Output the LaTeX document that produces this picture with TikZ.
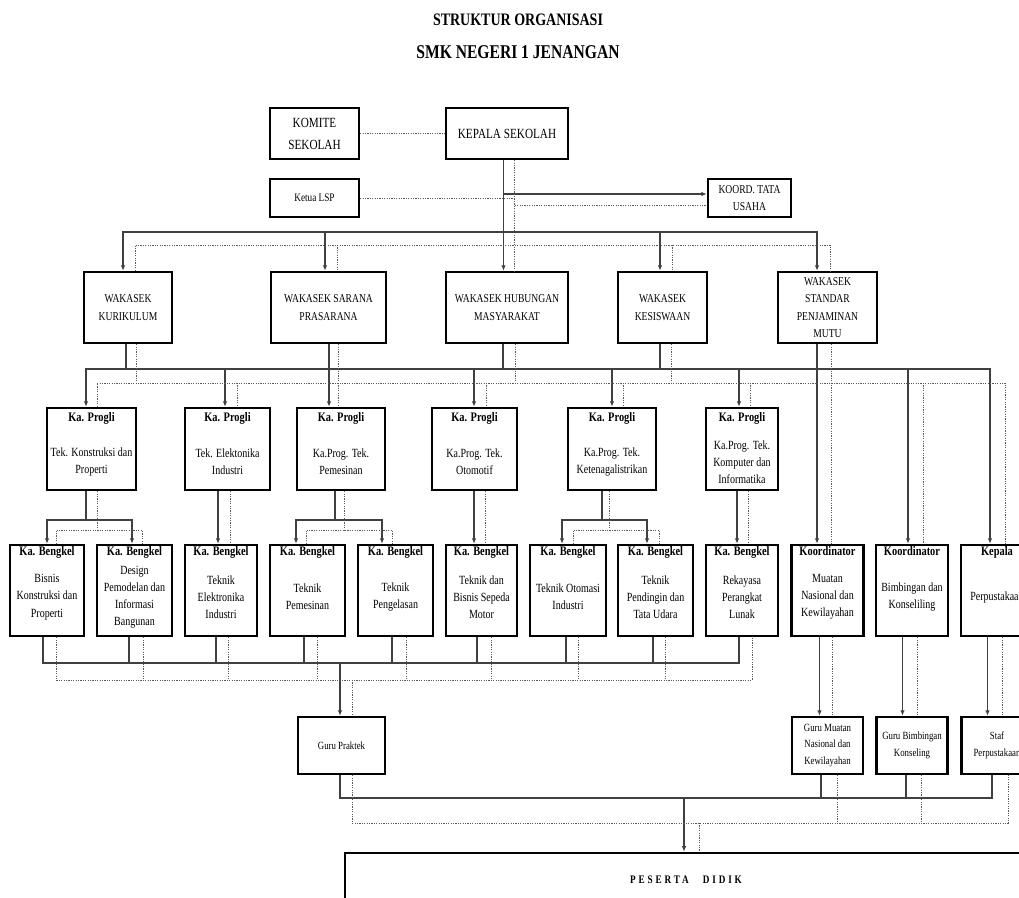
\documentclass[tikz,border=0pt]{standalone}
\usepackage{fontspec}
\setmainfont{Liberation Serif}[FakeStretch=0.8]
\usetikzlibrary{arrows.meta}

\tikzset{
  frame/.style={draw, line width=2.4pt, inner sep=0pt, align=center},
  big/.style={font=\fontsize{14}{22}\selectfont},
  caps/.style={font=\fontsize{12}{17.5}\selectfont},
  progli/.style={frame, minimum height=82pt},
  bengkel/.style={frame, minimum height=91pt},
  guru/.style={frame, minimum height=57pt, font=\fontsize{11}{16.5}\selectfont},
  head/.style={anchor=base, inner sep=0pt, font=\bfseries\fontsize{13}{16}\selectfont},
  body/.style={align=center, inner sep=0pt, font=\fontsize{12.5}{17.2}\selectfont},
  solidline/.style={draw=black!75, line width=1.2pt},
  arrowline/.style={solidline, ->},
  dotline/.style={draw=black!65, line width=1pt, dash pattern=on 1.2pt off 1.2pt},
  >={Latex[length=5.5pt,width=4.5pt]}
}

\begin{document}
\begin{tikzpicture}[x=1pt, y=-1pt]
\useasboundingbox (0,0) rectangle (1019,897);

% Judul
\node[font=\bfseries\fontsize{17.5}{20}\selectfont] (title) at (518,20) {STRUKTUR ORGANISASI};
\node[font=\bfseries\fontsize{19.5}{22}\selectfont] (school) at (518,52) {SMK NEGERI 1 JENANGAN};

% Tingkat garis penghubung
\coordinate (busA) at (0,232);
\coordinate (dotA) at (0,245);
\coordinate (busB) at (0,369);
\coordinate (dotB) at (0,383);
\coordinate (busC) at (0,520);
\coordinate (dotC) at (0,530);
\coordinate (busD) at (0,663);
\coordinate (dotD) at (0,680);
\coordinate (busE) at (0,798);
\coordinate (dotE) at (0,823);

% Pimpinan
\node[frame, big, minimum width=89pt, minimum height=51pt] (komite) at (314.5,133.5) {KOMITE\\SEKOLAH};
\node[frame, big, minimum width=122pt, minimum height=51pt] (kepala) at (507,133.5) {KEPALA SEKOLAH};
\node[frame, font=\fontsize{11.5}{14}\selectfont, minimum width=89pt, minimum height=38pt] (lsp) at (314.5,198) {Ketua LSP};
\node[frame, caps, minimum width=83pt, minimum height=38pt] (tu) at (749.5,198) {KOORD. TATA\\USAHA};

% Wakasek
\node[frame, caps, minimum width=88pt, minimum height=71pt] (kurikulum) at (128,307.5) {WAKASEK\\KURIKULUM};
\node[frame, caps, minimum width=115pt, minimum height=71pt] (sarana) at (328.5,307.5) {WAKASEK SARANA\\PRASARANA};
\node[frame, caps, minimum width=122pt, minimum height=71pt] (humas) at (507,307.5) {WAKASEK HUBUNGAN\\MASYARAKAT};
\node[frame, caps, minimum width=89pt, minimum height=71pt] (kesiswaan) at (662.5,307.5) {WAKASEK\\KESISWAAN};
\node[frame, caps, minimum width=99pt, minimum height=71pt] (spm) at (827.5,307.5) {WAKASEK\\STANDAR\\PENJAMINAN\\MUTU};

% Ka. Progli
\node[progli, minimum width=89pt] (tkp) at (91.5,449) {};
\node[head] (tkph) at ([yshift=-15pt]tkp.north) {Ka. Progli};
\node[body] (tkpt) at ([yshift=-13pt]tkp.center) {Tek. Konstruksi dan\\Properti};
\node[progli, minimum width=85pt] (tei) at (227.5,449) {};
\node[head] (teih) at ([yshift=-15pt]tei.north) {Ka. Progli};
\node[body] (teit) at ([yshift=-13pt]tei.center) {Tek. Elektonika\\Industri};
\node[progli, minimum width=88pt] (tpm) at (341,449) {};
\node[head] (tpmh) at ([yshift=-15pt]tpm.north) {Ka. Progli};
\node[body] (tpmt) at ([yshift=-13pt]tpm.center) {Ka.Prog. Tek.\\Pemesinan};
\node[progli, minimum width=85pt] (tom) at (474.5,449) {};
\node[head] (tomh) at ([yshift=-15pt]tom.north) {Ka. Progli};
\node[body] (tomt) at ([yshift=-13pt]tom.center) {Ka.Prog. Tek.\\Otomotif};
\node[progli, minimum width=88pt] (tkl) at (612,449) {};
\node[head] (tklh) at ([yshift=-15pt]tkl.north) {Ka. Progli};
\node[body] (tklt) at ([yshift=-13pt]tkl.center) {Ka.Prog. Tek.\\Ketenagalistrikan};
\node[progli, minimum width=72pt] (tki) at (742,449) {};
\node[head] (tkih) at ([yshift=-15pt]tki.north) {Ka. Progli};
\node[body] (tkit) at ([yshift=-13pt]tki.center) {Ka.Prog. Tek.\\Komputer dan\\Informatika};

% Ka. Bengkel dan Koordinator
\node[bengkel, minimum width=74pt] (bkp) at (47,590.5) {};
\node[head] (bkph) at ([yshift=-12pt]bkp.north) {Ka. Bengkel};
\node[body] (bkpt) at ([yshift=-6.5pt]bkp.center) {Bisnis\\Konstruksi dan\\Properti};
\node[bengkel, minimum width=75pt] (dpib) at (134.5,590.5) {};
\node[head] (dpibh) at ([yshift=-12pt]dpib.north) {Ka. Bengkel};
\node[body] (dpibt) at ([yshift=-6.5pt]dpib.center) {Design\\Pemodelan dan\\Informasi\\Bangunan};
\node[bengkel, minimum width=72pt] (tein) at (221,590.5) {};
\node[head] (teinh) at ([yshift=-12pt]tein.north) {Ka. Bengkel};
\node[body] (teint) at ([yshift=-6.5pt]tein.center) {Teknik\\Elektronika\\Industri};
\node[bengkel, minimum width=75pt] (tpem) at (307.5,590.5) {};
\node[head] (tpemh) at ([yshift=-12pt]tpem.north) {Ka. Bengkel};
\node[body] (tpemt) at ([yshift=-6.5pt]tpem.center) {Teknik\\Pemesinan};
\node[bengkel, minimum width=75pt] (tpeng) at (395.5,590.5) {};
\node[head] (tpengh) at ([yshift=-12pt]tpeng.north) {Ka. Bengkel};
\node[body] (tpengt) at ([yshift=-6.5pt]tpeng.center) {Teknik\\Pengelasan};
\node[bengkel, minimum width=71pt] (tbsm) at (481.5,590.5) {};
\node[head] (tbsmh) at ([yshift=-12pt]tbsm.north) {Ka. Bengkel};
\node[body] (tbsmt) at ([yshift=-6.5pt]tbsm.center) {Teknik dan\\Bisnis Sepeda\\Motor};
\node[bengkel, minimum width=76pt] (toi) at (568,590.5) {};
\node[head] (toih) at ([yshift=-12pt]toi.north) {Ka. Bengkel};
\node[body] (toit) at ([yshift=-6.5pt]toi.center) {Teknik Otomasi\\Industri};
\node[bengkel, minimum width=75pt] (tpu) at (655.5,590.5) {};
\node[head] (tpuh) at ([yshift=-12pt]tpu.north) {Ka. Bengkel};
\node[body] (tput) at ([yshift=-6.5pt]tpu.center) {Teknik\\Pendingin dan\\Tata Udara};
\node[bengkel, minimum width=72pt] (rpl) at (742,590.5) {};
\node[head] (rplh) at ([yshift=-12pt]rpl.north) {Ka. Bengkel};
\node[body] (rplt) at ([yshift=-6.5pt]rpl.center) {Rekayasa\\Perangkat\\Lunak};
\node[bengkel, minimum width=72pt] (kmn) at (827.5,590.5) {};
\node[head] (kmnh) at ([yshift=-12pt]kmn.north) {Koordinator};
\node[body] (kmnt) at ([yshift=-6.5pt]kmn.center) {Muatan\\Nasional dan\\Kewilayahan};
\node[bengkel, minimum width=72pt] (kbk) at (912,590.5) {};
\node[head] (kbkh) at ([yshift=-12pt]kbk.north) {Koordinator};
\node[body] (kbkt) at ([yshift=-6.5pt]kbk.center) {Bimbingan dan\\Konseliling};
\node[bengkel, minimum width=72pt] (kpus) at (997,590.5) {};
\node[head] (kpush) at ([yshift=-12pt]kpus.north) {Kepala};
\node[body] (kpust) at ([yshift=-6.5pt]kpus.center) {Perpustakaan};

% Guru dan staf
\node[guru, minimum width=87pt] (gupr) at (341.5,745.5) {Guru Praktek};
\node[guru, minimum width=71pt] (gumn) at (827.5,745.5) {Guru Muatan\\Nasional dan\\Kewilayahan};
\node[guru, minimum width=71pt] (gubk) at (912,745.5) {Guru Bimbingan\\Konseling};
\node[guru, minimum width=71pt] (staf) at (997,745.5) {Staf\\Perpustakaan};

% Peserta didik
\node[frame, line width=2.6pt, minimum width=682pt, minimum height=54pt,
  font=\bfseries\fontsize{11.5}{14}\selectfont\addfontfeatures{LetterSpace=25}] (peserta) at (686,880) {PESERTA\hspace{14pt}DIDIK};

% Kepala Sekolah
\draw[dotline] (komite) -- (kepala);
\draw[arrowline] ([xshift=-3.5pt]kepala.south) -- ([xshift=-3.5pt]humas.north);
\draw[dotline] ([xshift=7pt]kepala.south) -- ([xshift=7pt]humas.north);
\draw[arrowline] ([xshift=-3.5pt]kepala.south) |- ([yshift=4pt]tu.west);
\draw[dotline] ([xshift=7pt]kepala.south) |- ([yshift=-7pt]tu.west);
\draw[dotline] (lsp) -- ([xshift=7pt]kepala.south |- lsp);

% ke Wakasek
\draw[solidline, <->] ([xshift=-5pt]kurikulum.north) |- ([xshift=-10.5pt]spm.north |- busA) -- ([xshift=-10.5pt]spm.north);
\draw[arrowline] ([xshift=-3.5pt]sarana.north |- busA) -- ([xshift=-3.5pt]sarana.north);
\draw[arrowline] ([xshift=-2.5pt]kesiswaan.north |- busA) -- ([xshift=-2.5pt]kesiswaan.north);
\draw[dotline] ([xshift=7pt]kurikulum.north) |- ([xshift=2.5pt]spm.north |- dotA) -- ([xshift=2.5pt]spm.north);
\draw[dotline] ([xshift=8.5pt]sarana.north |- dotA) -- ([xshift=8.5pt]sarana.north);
\draw[dotline] ([xshift=9.5pt]kesiswaan.north |- dotA) -- ([xshift=9.5pt]kesiswaan.north);

% Wakasek ke Ka. Progli
\draw[solidline, <->] ([xshift=-5.5pt]tkp.north) |- ([xshift=-7pt]kpus.north |- busB) -- ([xshift=-7pt]kpus.north);
\draw[solidline] ([xshift=-2pt]kurikulum.south) -- ([xshift=-2pt]kurikulum.south |- busB);
\draw[arrowline] ([xshift=0.5pt]sarana.south) -- ([xshift=0.5pt]sarana.south |- tpm.north);
\draw[solidline] ([xshift=-4pt]humas.south) -- ([xshift=-4pt]humas.south |- busB);
\draw[solidline] ([xshift=-2.5pt]kesiswaan.south) -- ([xshift=-2.5pt]kesiswaan.south |- busB);
\draw[arrowline] ([xshift=-10.5pt]spm.south) -- ([xshift=-10.5pt]kmn.north);
\draw[arrowline] ([xshift=-2.5pt]tei.north |- busB) -- ([xshift=-2.5pt]tei.north);
\draw[arrowline] ([xshift=-0.5pt]tom.north |- busB) -- ([xshift=-0.5pt]tom.north);
\draw[arrowline] (tkl.north |- busB) -- (tkl.north);
\draw[arrowline] ([xshift=-3pt]tki.north |- busB) -- ([xshift=-3pt]tki.north);
\draw[arrowline] ([xshift=-4pt]kbk.north |- busB) -- ([xshift=-4pt]kbk.north);
\draw[dotline] ([xshift=5.5pt]tkp.north) |- ([xshift=8pt]kpus.north |- dotB) -- ([xshift=8pt]kpus.north);
\draw[dotline] ([xshift=8pt]kurikulum.south) -- ([xshift=8pt]kurikulum.south |- dotB);
\draw[dotline] ([xshift=9.5pt]sarana.south) -- ([xshift=9.5pt]sarana.south |- dotB);
\draw[dotline] ([xshift=8pt]humas.south) -- ([xshift=8pt]humas.south |- dotB);
\draw[dotline] ([xshift=8.5pt]kesiswaan.south) -- ([xshift=8.5pt]kesiswaan.south |- dotB);
\draw[dotline] ([xshift=3.5pt]spm.south) -- ([xshift=3.5pt]kmn.north);
\draw[dotline] ([xshift=9.5pt]tei.north |- dotB) -- ([xshift=9.5pt]tei.north);
\draw[dotline] ([xshift=-3pt]tpm.north |- dotB) -- ([xshift=-3pt]tpm.north);
\draw[dotline] ([xshift=11.5pt]tom.north |- dotB) -- ([xshift=11.5pt]tom.north);
\draw[dotline] ([xshift=11pt]tkl.north |- dotB) -- ([xshift=11pt]tkl.north);
\draw[dotline] ([xshift=8pt]tki.north |- dotB) -- ([xshift=8pt]tki.north);
\draw[dotline] ([xshift=11pt]kbk.north |- dotB) -- ([xshift=11pt]kbk.north);

% Ka. Progli ke Ka. Bengkel
\draw[solidline] ([xshift=-5.5pt]tkp.south) -- ([xshift=-5.5pt]tkp.south |- busC);
\draw[solidline, <->] (bkp.north) |- ([xshift=-2.5pt]dpib.north |- busC) -- ([xshift=-2.5pt]dpib.north);
\draw[dotline] ([xshift=5.5pt]tkp.south) -- ([xshift=5.5pt]tkp.south |- dotC);
\draw[dotline] ([xshift=9pt]bkp.north) |- ([xshift=7.5pt]dpib.north |- dotC) -- ([xshift=7.5pt]dpib.north);
\draw[arrowline] ([xshift=-9.5pt]tei.south) -- ([xshift=-9.5pt]tei.south |- tein.north);
\draw[dotline] ([xshift=2.5pt]tei.south) -- ([xshift=2.5pt]tei.south |- tein.north);
\draw[solidline] ([xshift=-6pt]tpm.south) -- ([xshift=-6pt]tpm.south |- busC);
\draw[solidline, <->] ([xshift=-11.5pt]tpem.north) |- ([xshift=-13.5pt]tpeng.north |- busC) -- ([xshift=-13.5pt]tpeng.north);
\draw[dotline] ([xshift=3pt]tpm.south) -- ([xshift=3pt]tpm.south |- dotC);
\draw[dotline] ([xshift=-1.5pt]tpem.north) |- ([xshift=-3.5pt]tpeng.north |- dotC) -- ([xshift=-3.5pt]tpeng.north);
\draw[arrowline] ([xshift=-0.5pt]tom.south) -- ([xshift=-0.5pt]tom.south |- tbsm.north);
\draw[dotline] ([xshift=10.5pt]tom.south) -- ([xshift=10.5pt]tom.south |- tbsm.north);
\draw[solidline] ([xshift=-10pt]tkl.south) -- ([xshift=-10pt]tkl.south |- busC);
\draw[solidline, <->] ([xshift=-6pt]toi.north) |- ([xshift=-8.5pt]tpu.north |- busC) -- ([xshift=-8.5pt]tpu.north);
\draw[dotline] ([xshift=-3pt]tkl.south) -- ([xshift=-3pt]tkl.south |- dotC);
\draw[dotline] ([xshift=5pt]toi.north) |- ([xshift=3.5pt]tpu.north |- dotC) -- ([xshift=3.5pt]tpu.north);
\draw[arrowline] ([xshift=-5pt]tki.south) -- ([xshift=-5pt]rpl.north);
\draw[dotline] ([xshift=6pt]tki.south) -- ([xshift=6pt]rpl.north);

% Ka. Bengkel ke Guru Praktek
\draw[solidline] ([xshift=-4pt]bkp.south) |- ([xshift=-3pt]rpl.south |- busD) -- ([xshift=-3pt]rpl.south);
\draw[solidline] ([xshift=-5.5pt]dpib.south) -- ([xshift=-5.5pt]dpib.south |- busD);
\draw[solidline] ([xshift=-5pt]tein.south) -- ([xshift=-5pt]tein.south |- busD);
\draw[solidline] ([xshift=-3.5pt]tpem.south) -- ([xshift=-3.5pt]tpem.south |- busD);
\draw[solidline] ([xshift=-3.5pt]tpeng.south) -- ([xshift=-3.5pt]tpeng.south |- busD);
\draw[solidline] ([xshift=-4.5pt]tbsm.south) -- ([xshift=-4.5pt]tbsm.south |- busD);
\draw[solidline] ([xshift=-2pt]toi.south) -- ([xshift=-2pt]toi.south |- busD);
\draw[solidline] ([xshift=-2.5pt]tpu.south) -- ([xshift=-2.5pt]tpu.south |- busD);
\draw[arrowline] ([xshift=-1.5pt]gupr.north |- busD) -- ([xshift=-1.5pt]gupr.north);
\draw[dotline] ([xshift=9pt]bkp.south) |- ([xshift=10pt]rpl.south |- dotD) -- ([xshift=10pt]rpl.south);
\draw[dotline] ([xshift=8.5pt]dpib.south) -- ([xshift=8.5pt]dpib.south |- dotD);
\draw[dotline] ([xshift=7pt]tein.south) -- ([xshift=7pt]tein.south |- dotD);
\draw[dotline] ([xshift=9.5pt]tpem.south) -- ([xshift=9.5pt]tpem.south |- dotD);
\draw[dotline] ([xshift=10.5pt]tpeng.south) -- ([xshift=10.5pt]tpeng.south |- dotD);
\draw[dotline] ([xshift=9.5pt]tbsm.south) -- ([xshift=9.5pt]tbsm.south |- dotD);
\draw[dotline] ([xshift=10pt]toi.south) -- ([xshift=10pt]toi.south |- dotD);
\draw[dotline] ([xshift=9.5pt]tpu.south) -- ([xshift=9.5pt]tpu.south |- dotD);
\draw[dotline] ([xshift=10.5pt]gupr.north |- dotD) -- ([xshift=10.5pt]gupr.north);

% Koordinator ke guru dan staf
\draw[arrowline] ([xshift=-8pt]kmn.south) -- ([xshift=-8pt]gumn.north);
\draw[dotline] ([xshift=4.5pt]kmn.south) -- ([xshift=4.5pt]gumn.north);
\draw[arrowline] ([xshift=-9.5pt]kbk.south) -- ([xshift=-9.5pt]gubk.north);
\draw[dotline] ([xshift=5.5pt]kbk.south) -- ([xshift=5.5pt]gubk.north);
\draw[arrowline] ([xshift=-9.5pt]kpus.south) -- ([xshift=-9.5pt]staf.north);
\draw[dotline] ([xshift=5pt]kpus.south) -- ([xshift=5pt]staf.north);

% ke Peserta Didik
\draw[solidline] ([xshift=-1.5pt]gupr.south) |- ([xshift=-5pt]staf.south |- busE) -- ([xshift=-5pt]staf.south);
\draw[solidline] ([xshift=-6.5pt]gumn.south) -- ([xshift=-6.5pt]gumn.south |- busE);
\draw[solidline] ([xshift=-6pt]gubk.south) -- ([xshift=-6pt]gubk.south |- busE);
\draw[arrowline] ([xshift=-2pt]peserta.north |- busE) -- ([xshift=-2pt]peserta.north);
\draw[dotline] ([xshift=10.5pt]gupr.south) |- ([xshift=11pt]staf.south |- dotE) -- ([xshift=11pt]staf.south);
\draw[dotline] ([xshift=9.5pt]gumn.south) -- ([xshift=9.5pt]gumn.south |- dotE);
\draw[dotline] ([xshift=9pt]gubk.south) -- ([xshift=9pt]gubk.south |- dotE);
\draw[dotline] ([xshift=13pt]peserta.north |- dotE) -- ([xshift=13pt]peserta.north);
\end{tikzpicture}
\end{document}
